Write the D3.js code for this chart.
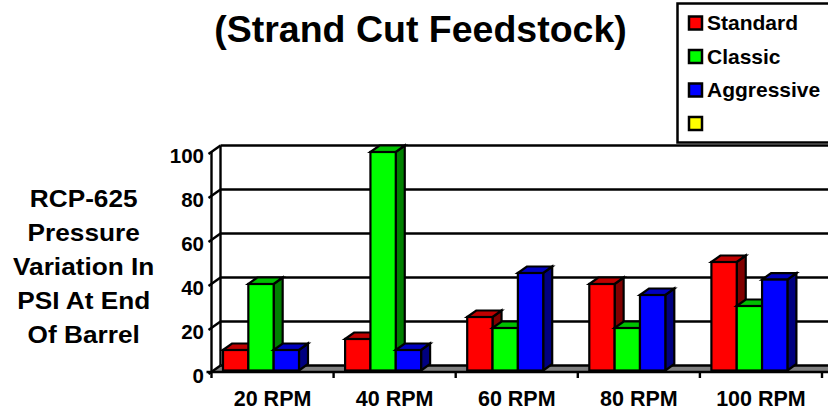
<!DOCTYPE html>
<html>
<head>
<meta charset="utf-8">
<script src="https://cdn.jsdelivr.net/npm/d3@7"></script>
<style>
  html, body { margin: 0; padding: 0; background: #fff; overflow: hidden; }
  svg { display: block; }
  text { font-family: "Liberation Sans", Arial, sans-serif; font-weight: bold; fill: #000; }
</style>
</head>
<body>
<svg id="chart" width="828" height="414"></svg>
<script>
const categories = ['20 RPM', '40 RPM', '60 RPM', '80 RPM', '100 RPM'];
const standard = [10, 15, 25, 40, 50];
const classic = [40, 100, 20, 20, 30];
const aggressive = [10, 10, 45, 35, 42];
const yTicks = [0, 20, 40, 60, 80, 100];
const legendLabels = ['Standard', 'Classic', 'Aggressive', ''];
const legendColors = ['#ff0000', '#00ff00', '#0000ff', '#ffff00'];
const sideColors = ['#800000', '#008000', '#000080'];
const topColors = ['#c00000', '#00c000', '#0000c0'];
const yLabelLines = ['RCP-625', 'Pressure', 'Variation In', 'PSI At End', 'Of Barrel'];

const series = [standard, classic, aggressive];
const svg = d3.select('#chart');

// depth of the fake 3d box
const dx = 9, dy = 6.5;
const x0 = 211.5, x1 = 822, y0 = 372, y100 = 152;
const lineW = 2.4;

const x = d3.scaleBand().domain(categories).range([x0, x1]);
const y = d3.scaleLinear().domain([0, 100]).range([y0, y100]);
const inner = d3.scaleBand().domain(d3.range(series.length))
    .range([11.5, 87.5]);

svg.append('text')
    .attr('x', 420.5).attr('y', 42)
    .attr('text-anchor', 'middle')
    .attr('font-size', 37.5)
    .text('(Strand Cut Feedstock)');

// legend
const legend = svg.append('g');
legend.append('rect')
    .attr('x', 677.5).attr('y', 3.5)
    .attr('width', 160).attr('height', 139)
    .attr('fill', '#fff').attr('stroke', '#000').attr('stroke-width', 2.5);
const legendY = d3.scalePoint().domain(d3.range(legendLabels.length)).range([23, 123.5]);
legendLabels.forEach((label, i) => {
    legend.append('rect')
        .attr('x', 689).attr('y', legendY(i) - 6.5)
        .attr('width', 13).attr('height', 13)
        .attr('fill', legendColors[i]).attr('stroke', '#000').attr('stroke-width', 2.5);
    legend.append('text')
        .attr('x', 707).attr('y', legendY(i) + 7)
        .attr('font-size', 21)
        .text(label);
});

// grey floor
const floor = d3.path();
floor.moveTo(x0, y0);
floor.lineTo(x0 + dx, y0 - dy);
floor.lineTo(828, y0 - dy);
floor.lineTo(828, y0);
floor.closePath();
svg.append('path').attr('d', floor.toString()).attr('fill', '#808080');

// back wall, gridlines, side wall with its slanted ticks
const walls = svg.append('g').attr('stroke', '#000').attr('stroke-width', lineW).attr('fill', 'none');
yTicks.forEach(t => {
    walls.append('line')
        .attr('x1', x0 + dx).attr('x2', 828)
        .attr('y1', y(t) - dy).attr('y2', y(t) - dy);
    walls.append('line')
        .attr('x1', x0 - 3).attr('x2', x0 + dx)
        .attr('y1', y(t) + 2).attr('y2', y(t) - dy);
});
walls.append('line')
    .attr('x1', x0 + dx).attr('x2', x0 + dx)
    .attr('y1', y(100) - dy).attr('y2', y(0) - dy);
walls.append('line')
    .attr('x1', x0).attr('x2', x0)
    .attr('y1', y(100)).attr('y2', y(0));

// bars
const poly = pts => 'M' + pts.map(p => p.join(',')).join('L') + 'Z';
categories.forEach((cat, c) => {
    series.forEach((values, s) => {
        const left = x(cat) + inner(s);
        const right = left + inner.bandwidth();
        const top = y(values[c]);
        const g = svg.append('g').attr('stroke', '#000').attr('stroke-width', 2.2).attr('stroke-linejoin', 'miter');
        g.append('path')
            .attr('d', poly([[right, y0 - 1.5], [right + dx, y0 - 1.5 - dy], [right + dx, top - dy], [right, top]]))
            .attr('fill', sideColors[s]);
        g.append('path')
            .attr('d', poly([[left, top], [left + dx, top - dy], [right + dx, top - dy], [right, top]]))
            .attr('fill', topColors[s]);
        g.append('rect')
            .attr('x', left).attr('y', top)
            .attr('width', right - left).attr('height', y0 - 1.5 - top)
            .attr('fill', legendColors[s]);
    });
});

// axes
const yAxis = d3.axisLeft(y).tickValues(yTicks).tickSize(0).tickPadding(7.5);
const yG = svg.append('g').attr('transform', `translate(${x0},0)`).call(yAxis);
yG.select('.domain').remove();
yG.selectAll('text')
    .attr('font-size', 20.5).attr('font-family', null)
    .attr('transform', 'translate(0,4)');

const xAxis = d3.axisBottom(x).tickSize(0).tickPadding(19);
const xG = svg.append('g').attr('transform', `translate(0,${y0})`).call(xAxis);
xG.select('.domain').remove();
xG.selectAll('text').attr('font-size', 21.5).attr('font-family', null);

// separators between categories, on the band edges
svg.append('g').selectAll('line')
    .data(categories.concat(['end']))
    .join('line')
    .attr('x1', (d, i) => i < categories.length ? x(d) : x1)
    .attr('x2', (d, i) => i < categories.length ? x(d) : x1)
    .attr('y1', y0).attr('y2', y0 + 6)
    .attr('stroke', '#000').attr('stroke-width', lineW);
svg.append('line')
    .attr('x1', x0 - 5).attr('x2', 828)
    .attr('y1', y0).attr('y2', y0)
    .attr('stroke', '#000').attr('stroke-width', 2.6);

// y title, one line at a time. the source text is a bit wider than plain bold
const yLabel = d3.scalePoint().domain(yLabelLines).range([207, 343]);
svg.append('g').selectAll('text')
    .data(yLabelLines)
    .join('text')
    .attr('transform', d => `translate(83.7,${yLabel(d)}) scale(1.14,1)`)
    .attr('text-anchor', 'middle')
    .attr('font-size', 23)
    .text(d => d);
</script>
</body>
</html>
